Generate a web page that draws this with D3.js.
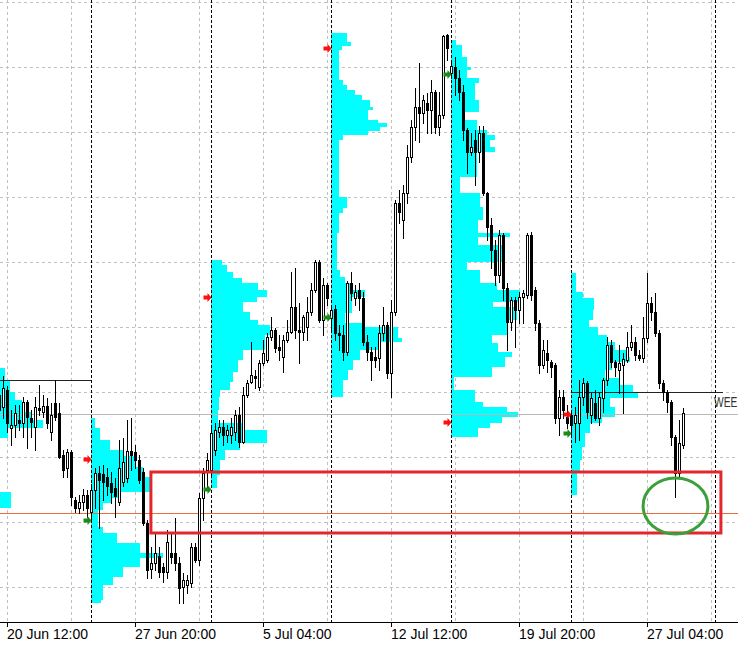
<!DOCTYPE html>
<html><head><meta charset="utf-8">
<script src="https://cdn.jsdelivr.net/npm/d3@7/dist/d3.min.js"></script>
<style>html,body{margin:0;padding:0;background:#fff;overflow:hidden}svg{display:block}</style>
</head><body>
<script>
// ---------------- DATA ----------------
const firstBar = -1; // bar index of the first candle (H4 bars)
const open = [1.2605,
1.2593,1.2610,1.2572,1.2575,1.2580,1.2577,1.2598,1.2582,1.2573,1.2592,1.2588,1.2594,1.2568,1.2597,1.2587,1.2545,1.2532,1.2548,1.2500,1.2492,1.2498,1.2505,
1.2488,1.2510,1.2527,1.2526,1.2523,1.2517,1.2512,1.2498,1.2518,1.2522,1.2549,1.2548,1.2540,1.2528,1.2477,1.2431,1.2437,1.2444,1.2433,1.2428,1.2447,1.2447,1.2437,1.2413,1.2415,1.2417,1.2453,1.2440,1.2502,1.2530,
1.2530,1.2550,1.2568,1.2573,1.2565,1.2565,1.2568,1.2585,1.2558,1.2605,1.2618,1.2624,1.2613,1.2637,1.2640,1.2663,1.2670,1.2653,1.2643,1.2660,1.2668,1.2693,1.2670,1.2668,1.2673,1.2688,1.2710,1.2738,1.2680,1.2715,
1.2682,1.2691,1.2667,1.2665,1.2648,1.2717,1.2702,1.2710,1.2702,1.2658,1.2648,1.2643,1.2642,1.2667,1.2675,1.2627,1.2688,1.2797,1.2780,1.2807,1.2843,1.2873,1.2893,1.2887,1.2897,1.2890,1.2908,1.2873,1.2885,1.2965,
1.2927,1.2933,1.2922,1.2908,1.2870,1.2848,1.2860,1.2848,1.2867,1.2807,1.2775,1.2750,1.2725,1.2765,1.2712,1.2678,1.2700,1.2690,1.2703,1.2705,1.2765,1.2710,1.2677,1.2635,1.2647,1.2638,1.2635,1.2582,1.2603,1.2583,
1.2585,1.2577,1.2577,1.2603,1.2617,1.2585,1.2597,1.2582,1.2602,1.2620,1.2655,1.2638,1.2630,1.2635,1.2640,1.2653,1.2658,1.2645,1.2642,1.2662,1.2697,1.2688,1.2667,1.2617,1.2608,1.2598,1.2563,1.2527,1.2555];
const high = [1.2630,
1.2624,1.2614,1.2590,1.2595,1.2595,1.2603,1.2600,1.2590,1.2603,1.2615,1.2605,1.2602,1.2597,1.2620,1.2597,1.2550,1.2551,1.2550,1.2503,1.2505,1.2511,1.2510,
1.2516,1.2532,1.2534,1.2535,1.2532,1.2528,1.2522,1.2560,1.2562,1.2580,1.2582,1.2555,1.2545,1.2532,1.2480,1.2453,1.2467,1.2453,1.2437,1.2470,1.2467,1.2482,1.2443,1.2427,1.2425,1.2457,1.2457,1.2507,1.2532,1.2547,
1.2572,1.2577,1.2580,1.2580,1.2575,1.2582,1.2590,1.2593,1.2613,1.2620,1.2658,1.2630,1.2640,1.2660,1.2667,1.2683,1.2672,1.2665,1.2665,1.2680,1.2728,1.2732,1.2697,1.2685,1.2703,1.2717,1.2740,1.2740,1.2722,1.2717,
1.2695,1.2695,1.2675,1.2675,1.2719,1.2728,1.2715,1.2717,1.2708,1.2665,1.2653,1.2653,1.2675,1.2693,1.2678,1.2700,1.2800,1.2810,1.2815,1.2855,1.2880,1.2912,1.2937,1.2905,1.2907,1.2920,1.2910,1.2908,1.2965,1.2966,
1.2940,1.2943,1.2930,1.2915,1.2872,1.2867,1.2870,1.2874,1.2874,1.2808,1.2782,1.2760,1.2770,1.2767,1.2717,1.2703,1.2703,1.2708,1.2710,1.2767,1.2768,1.2713,1.2680,1.2660,1.2660,1.2640,1.2637,1.2610,1.2610,1.2595,
1.2590,1.2593,1.2620,1.2622,1.2619,1.2607,1.2610,1.2607,1.2622,1.2663,1.2660,1.2640,1.2655,1.2647,1.2668,1.2675,1.2663,1.2650,1.2683,1.2727,1.2703,1.2707,1.2670,1.2620,1.2610,1.2600,1.2565,1.2580,1.2592];
const low = [1.2563,
1.2582,1.2568,1.2555,1.2563,1.2570,1.2563,1.2552,1.2563,1.2550,1.2585,1.2583,1.2572,1.2560,1.2580,1.2542,1.2523,1.2523,1.2495,1.2488,1.2487,1.2490,1.2483,
1.2478,1.2492,1.2472,1.2500,1.2505,1.2497,1.2483,1.2495,1.2514,1.2518,1.2530,1.2532,1.2517,1.2475,1.2422,1.2422,1.2430,1.2423,1.2418,1.2422,1.2437,1.2430,1.2397,1.2397,1.2407,1.2413,1.2438,1.2435,1.2480,1.2512,
1.2525,1.2545,1.2563,1.2555,1.2558,1.2557,1.2560,1.2553,1.2557,1.2603,1.2617,1.2612,1.2610,1.2635,1.2638,1.2660,1.2648,1.2640,1.2628,1.2658,1.2667,1.2662,1.2637,1.2660,1.2660,1.2685,1.2708,1.2678,1.2665,1.2695,
1.2670,1.2660,1.2650,1.2640,1.2645,1.2700,1.2695,1.2690,1.2655,1.2640,1.2620,1.2633,1.2630,1.2660,1.2622,1.2603,1.2685,1.2777,1.2762,1.2797,1.2838,1.2860,1.2858,1.2877,1.2867,1.2867,1.2867,1.2865,1.2882,1.2940,
1.2922,1.2905,1.2900,1.2860,1.2827,1.2845,1.2815,1.2838,1.2805,1.2760,1.2732,1.2715,1.2718,1.2700,1.2650,1.2670,1.2653,1.2677,1.2677,1.2702,1.2700,1.2670,1.2627,1.2632,1.2628,1.2623,1.2577,1.2565,1.2582,1.2572,
1.2563,1.2558,1.2560,1.2595,1.2582,1.2577,1.2580,1.2575,1.2588,1.2615,1.2633,1.2624,1.2607,1.2587,1.2638,1.2650,1.2640,1.2640,1.2638,1.2658,1.2680,1.2664,1.2612,1.2600,1.2588,1.2555,1.2503,1.2523,1.2552];
const close = [1.2590,
1.2612,1.2577,1.2575,1.2587,1.2577,1.2598,1.2583,1.2578,1.2593,1.2590,1.2594,1.2577,1.2585,1.2583,1.2543,1.2530,1.2548,1.2503,1.2492,1.2498,1.2505,1.2492,
1.2510,1.2527,1.2520,1.2518,1.2514,1.2508,1.2504,1.2532,1.2538,1.2549,1.2545,1.2540,1.2520,1.2477,1.2430,1.2437,1.2447,1.2428,1.2428,1.2458,1.2443,1.2437,1.2412,1.2420,1.2420,1.2453,1.2440,1.2502,1.2527,1.2540,
1.2567,1.2570,1.2573,1.2565,1.2570,1.2573,1.2585,1.2558,1.2605,1.2617,1.2625,1.2622,1.2637,1.2647,1.2663,1.2670,1.2652,1.2650,1.2660,1.2668,1.2693,1.2670,1.2668,1.2683,1.2688,1.2710,1.2738,1.2680,1.2715,1.2702,
1.2690,1.2667,1.2665,1.2648,1.2717,1.2707,1.2708,1.2702,1.2658,1.2648,1.2640,1.2640,1.2667,1.2675,1.2627,1.2688,1.2797,1.2788,1.2807,1.2843,1.2873,1.2893,1.2887,1.2900,1.2890,1.2908,1.2873,1.2885,1.2964,1.2952,
1.2934,1.2922,1.2908,1.2870,1.2848,1.2853,1.2848,1.2867,1.2807,1.2773,1.2750,1.2725,1.2765,1.2712,1.2678,1.2700,1.2690,1.2703,1.2707,1.2765,1.2705,1.2677,1.2635,1.2650,1.2640,1.2633,1.2582,1.2603,1.2590,1.2577,
1.2575,1.2585,1.2603,1.2617,1.2588,1.2602,1.2582,1.2603,1.2620,1.2655,1.2638,1.2633,1.2637,1.2641,1.2653,1.2658,1.2645,1.2642,1.2662,1.2697,1.2688,1.2667,1.2617,1.2608,1.2598,1.2563,1.2527,1.2557,1.2587];

// weekly volume profiles: [price top, price bottom, volume]
const profile0 = [[1.2632,1.2620,34],[1.2620,1.2608,39],[1.2608,1.2600,44],[1.2600,1.2588,51],[1.2588,1.2580,61],[1.2580,1.2572,72],[1.2572,1.2562,37],[1.2508,1.2492,40]];
const profile1 = [[1.2582,1.2572,4],[1.2572,1.2560,9],[1.2560,1.2550,19],[1.2550,1.2544,32],[1.2544,1.2533,44],[1.2533,1.2523,52],[1.2523,1.2511,61],[1.2511,1.2508,59],[1.2508,1.2502,29],[1.2502,1.2497,21],[1.2497,1.2490,12],[1.2490,1.2473,7],[1.2473,1.2467,12],[1.2467,1.2457,26],[1.2457,1.2447,49],[1.2447,1.2442,72],[1.2442,1.2433,49],[1.2433,1.2423,32],[1.2423,1.2415,22],[1.2415,1.2400,12],[1.2400,1.2397,10]];
const profile2 = [[1.2740,1.2735,11],[1.2735,1.2728,16],[1.2728,1.2722,22],[1.2722,1.2717,31],[1.2717,1.2710,47],[1.2710,1.2703,56],[1.2703,1.2698,46],[1.2698,1.2688,32],[1.2688,1.2680,39],[1.2680,1.2675,47],[1.2675,1.2665,59],[1.2665,1.2650,54],[1.2650,1.2640,32],[1.2640,1.2628,27],[1.2628,1.2618,22],[1.2618,1.2610,19],[1.2610,1.2603,9],[1.2603,1.2590,8],[1.2590,1.2577,7],[1.2577,1.2570,34],[1.2570,1.2557,56],[1.2557,1.2550,29],[1.2550,1.2540,14],[1.2540,1.2525,9],[1.2525,1.2512,6]];
const profile3 = [[1.2967,1.2958,16],[1.2958,1.2954,20],[1.2954,1.2950,11],[1.2950,1.2920,8],[1.2920,1.2915,12],[1.2915,1.2910,16],[1.2910,1.2905,24],[1.2905,1.2900,31],[1.2900,1.2893,39],[1.2893,1.2890,42],[1.2890,1.2880,37],[1.2880,1.2877,47],[1.2877,1.2873,56],[1.2873,1.2869,49],[1.2869,1.2865,37],[1.2865,1.2860,12],[1.2860,1.2803,8],[1.2803,1.2792,16],[1.2792,1.2787,12],[1.2787,1.2767,8],[1.2767,1.2730,6],[1.2730,1.2723,9],[1.2723,1.2717,14],[1.2717,1.2710,21],[1.2710,1.2703,34],[1.2703,1.2687,21],[1.2687,1.2677,14],[1.2677,1.2673,32],[1.2673,1.2662,67],[1.2662,1.2658,71],[1.2658,1.2650,47],[1.2650,1.2640,29],[1.2640,1.2630,22],[1.2630,1.2620,17],[1.2620,1.2603,12]];
const profile4 = [[1.2960,1.2955,5],[1.2955,1.2943,11],[1.2943,1.2933,16],[1.2933,1.2930,20],[1.2930,1.2922,16],[1.2922,1.2917,28],[1.2917,1.2900,24],[1.2900,1.2888,28],[1.2888,1.2880,11],[1.2880,1.2870,26],[1.2870,1.2865,36],[1.2865,1.2860,44],[1.2860,1.2853,39],[1.2853,1.2848,44],[1.2848,1.2823,26],[1.2823,1.2807,9],[1.2807,1.2793,29],[1.2793,1.2780,32],[1.2780,1.2767,27],[1.2767,1.2763,59],[1.2763,1.2755,27],[1.2755,1.2738,54],[1.2738,1.2730,16],[1.2730,1.2717,29],[1.2717,1.2710,46],[1.2710,1.2698,69],[1.2698,1.2693,42],[1.2693,1.2680,66],[1.2680,1.2665,56],[1.2665,1.2657,41],[1.2657,1.2648,47],[1.2648,1.2643,61],[1.2643,1.2633,54],[1.2633,1.2623,41],[1.2623,1.2610,3],[1.2610,1.2598,24],[1.2598,1.2593,32],[1.2593,1.2588,56],[1.2588,1.2583,67],[1.2583,1.2577,51],[1.2577,1.2572,39],[1.2572,1.2563,27]];
const profile5 = [[1.2727,1.2708,5],[1.2708,1.2702,12],[1.2702,1.2690,23],[1.2690,1.2680,22],[1.2680,1.2673,18],[1.2673,1.2665,27],[1.2665,1.2658,36],[1.2658,1.2650,44],[1.2650,1.2643,55],[1.2643,1.2638,59],[1.2638,1.2630,41],[1.2630,1.2622,34],[1.2622,1.2615,49],[1.2615,1.2608,62],[1.2608,1.2602,67],[1.2602,1.2593,39],[1.2593,1.2583,44],[1.2583,1.2577,31],[1.2577,1.2567,19],[1.2567,1.2553,14],[1.2553,1.2540,11],[1.2540,1.2527,9],[1.2527,1.2505,6]];
const profiles = [profile0, profile1, profile2, profile3, profile4, profile5];
const profileStartBars = [-8, 22, 52, 82, 112, 142];

const separatorBars = [22, 52, 82, 112, 142, 178];
const redArrowPrices = [1.2541, 1.2703, 1.2952, 1.2578, 1.2586];
const greenArrowPrices = [1.2480, 1.2511, 1.2683, 1.2926, 1.2567];

const tickBars = [1, 33, 65, 97, 129, 161];
const tickLabels = ["20 Jun 12:00", "27 Jun 20:00", "5 Jul 04:00", "12 Jul 12:00", "19 Jul 20:00", "27 Jul 04:00"];
const gridBars = [1, 17, 33, 49, 65, 81, 97, 113, 129, 145, 161, 177];
const gridPrices = [1.2998, 1.2933, 1.2868, 1.2803, 1.2738, 1.2673, 1.2608, 1.2543, 1.2478, 1.2413];

const fullLines = [{price: 1.2586, color: "#b8b8b8"}, {price: 1.2487, color: "#e8703f"}];
const weeklyLevels = [{from: -2, to: 22, price: 1.2620, label: ""}, {from: 142, to: 180, price: 1.2608, label: "WEE"}];
const labelBar = 177.7;
const zone = {from: 36.9, to: 179.4, top: 1.2528, bottom: 1.2467};
const circle = {bar: 168.05, price: 1.2494, rBars: 8.1, rPrice: 0.0028};

// ---------------- CHART ----------------
const W = 740, H = 651, plotR = 738, axisY = 622;
const x = d3.scaleLinear().domain([0, 100]).range([3.3, 403.3]);
const y = d3.scaleLinear().domain([1.3000, 1.2349]).range([0, 651]);
const vol = d3.scaleLinear().domain([0, 100]).range([0, 100]);

const svg = d3.select("body").append("svg").attr("width", W).attr("height", H);
svg.append("rect").attr("width", W).attr("height", H).attr("fill", "#fff");
svg.append("defs").append("clipPath").attr("id", "plot")
  .append("rect").attr("x", 0).attr("y", 0).attr("width", plotR).attr("height", axisY);
const g = svg.append("g").attr("clip-path", "url(#plot)");

// grid
g.append("g").selectAll("line").data(gridPrices).join("line")
  .attr("x1", 0).attr("x2", plotR)
  .attr("y1", d => Math.round(y(d)) + 0.5).attr("y2", d => Math.round(y(d)) + 0.5)
  .attr("stroke", "#c0c0c0").attr("stroke-dasharray", "3,3").attr("shape-rendering", "crispEdges");
g.append("g").selectAll("line").data(gridBars).join("line")
  .attr("y1", 0).attr("y2", axisY)
  .attr("x1", d => Math.round(x(d)) + 0.5).attr("x2", d => Math.round(x(d)) + 0.5)
  .attr("stroke", "#c0c0c0").attr("stroke-dasharray", "3,3").attr("shape-rendering", "crispEdges");

// volume profiles
profiles.forEach((prof, k) => {
  const x0 = Math.round(x(profileStartBars[k]));
  g.append("g").selectAll("rect").data(prof).join("rect")
    .attr("x", x0)
    .attr("y", d => Math.round(y(d[0])))
    .attr("height", d => Math.max(1, Math.round(y(d[1])) - Math.round(y(d[0]))))
    .attr("width", d => vol(d[2]))
    .attr("fill", "#00ffff").attr("shape-rendering", "crispEdges");
});

// horizontal lines
g.append("g").selectAll("line").data(fullLines).join("line")
  .attr("x1", 0).attr("x2", plotR)
  .attr("y1", d => Math.round(y(d.price)) + 0.5).attr("y2", d => Math.round(y(d.price)) + 0.5)
  .attr("stroke", d => d.color).attr("shape-rendering", "crispEdges");
g.append("g").selectAll("line").data(weeklyLevels).join("line")
  .attr("x1", d => Math.round(x(d.from))).attr("x2", d => Math.round(x(d.to)))
  .attr("y1", d => Math.round(y(d.price)) + 0.5).attr("y2", d => Math.round(y(d.price)) + 0.5)
  .attr("stroke", "#222").attr("shape-rendering", "crispEdges");
svg.append("g").selectAll("text").data(weeklyLevels.filter(d => d.label)).join("text")
  .attr("transform", d => `translate(${x(labelBar)},${y(d.price) + 15}) scale(1.02,1.38)`)
  .attr("font-family", "Liberation Sans, Arial, sans-serif").attr("font-size", 10)
  .attr("fill", "#333").text(d => d.label);

// separators
g.append("g").selectAll("line").data(separatorBars).join("line")
  .attr("y1", 0).attr("y2", axisY)
  .attr("x1", d => Math.round(x(d)) + 0.5).attr("x2", d => Math.round(x(d)) + 0.5)
  .attr("stroke", "#000").attr("stroke-dasharray", "3,2").attr("shape-rendering", "crispEdges");

// candles
const candles = open.map((o, j) => ({bar: firstBar + j, o, h: high[j], l: low[j], c: close[j]}));
const cg = g.append("g").attr("shape-rendering", "crispEdges");
candles.forEach(d => {
  const xc = Math.round(x(d.bar));
  const yo = Math.round(y(d.o)), yc = Math.round(y(d.c));
  cg.append("line").attr("x1", xc + 0.5).attr("x2", xc + 0.5)
    .attr("y1", Math.round(y(d.h))).attr("y2", Math.round(y(d.l)) + 1).attr("stroke", "#000");
  if (d.c >= d.o) {
    const top = Math.min(yo, yc), hgt = Math.max(1, Math.abs(yo - yc));
    cg.append("rect").attr("x", xc - 0.5).attr("y", top + 0.5).attr("width", 2).attr("height", hgt)
      .attr("fill", "#fff").attr("stroke", "#000");
  } else {
    cg.append("rect").attr("x", xc - 1).attr("y", yo).attr("width", 3).attr("height", Math.max(1, yc - yo + 1))
      .attr("fill", "#000");
  }
});

// arrows
const arrowPath = "M-8,-2 L-4,-2 L-4,-4.5 L0,0 L-4,4.5 L-4,2 L-8,2 Z";
g.append("g").selectAll("path").data(redArrowPrices).join("path")
  .attr("d", arrowPath).attr("fill", "#ff1010")
  .attr("transform", (d, i) => `translate(${Math.round(x(separatorBars[i])) + 0.5},${Math.round(y(d)) + 0.5})`);
g.append("g").selectAll("path").data(greenArrowPrices).join("path")
  .attr("d", arrowPath).attr("fill", "#1a8a1a")
  .attr("transform", (d, i) => `translate(${Math.round(x(separatorBars[i])) + 0.5},${Math.round(y(d)) + 0.5})`);

// red zone rectangle & green ellipse
g.append("rect")
  .attr("x", x(zone.from)).attr("y", y(zone.top))
  .attr("width", x(zone.to) - x(zone.from)).attr("height", y(zone.bottom) - y(zone.top))
  .attr("fill", "none").attr("stroke", "#e3262c").attr("stroke-width", 3);
g.append("ellipse")
  .attr("cx", x(circle.bar)).attr("cy", y(circle.price))
  .attr("rx", x(circle.bar + circle.rBars) - x(circle.bar))
  .attr("ry", y(circle.price - circle.rPrice) - y(circle.price))
  .attr("fill", "none").attr("stroke", "#3aa03a").attr("stroke-width", 3);

// x axis
svg.append("line").attr("x1", 0).attr("x2", plotR).attr("y1", axisY + 0.5).attr("y2", axisY + 0.5)
  .attr("stroke", "#000").attr("shape-rendering", "crispEdges");
svg.append("g").selectAll("line").data(tickBars).join("line")
  .attr("x1", d => Math.round(x(d)) + 0.5).attr("x2", d => Math.round(x(d)) + 0.5)
  .attr("y1", axisY).attr("y2", axisY + 5).attr("stroke", "#000").attr("shape-rendering", "crispEdges");
svg.append("g").selectAll("text").data(tickBars).join("text")
  .attr("x", d => Math.round(x(d))).attr("y", axisY + 17)
  .attr("font-family", "Liberation Sans, Arial, sans-serif").attr("font-size", 14)
  .attr("fill", "#000").text((d, i) => tickLabels[i]);
</script>
</body></html>
